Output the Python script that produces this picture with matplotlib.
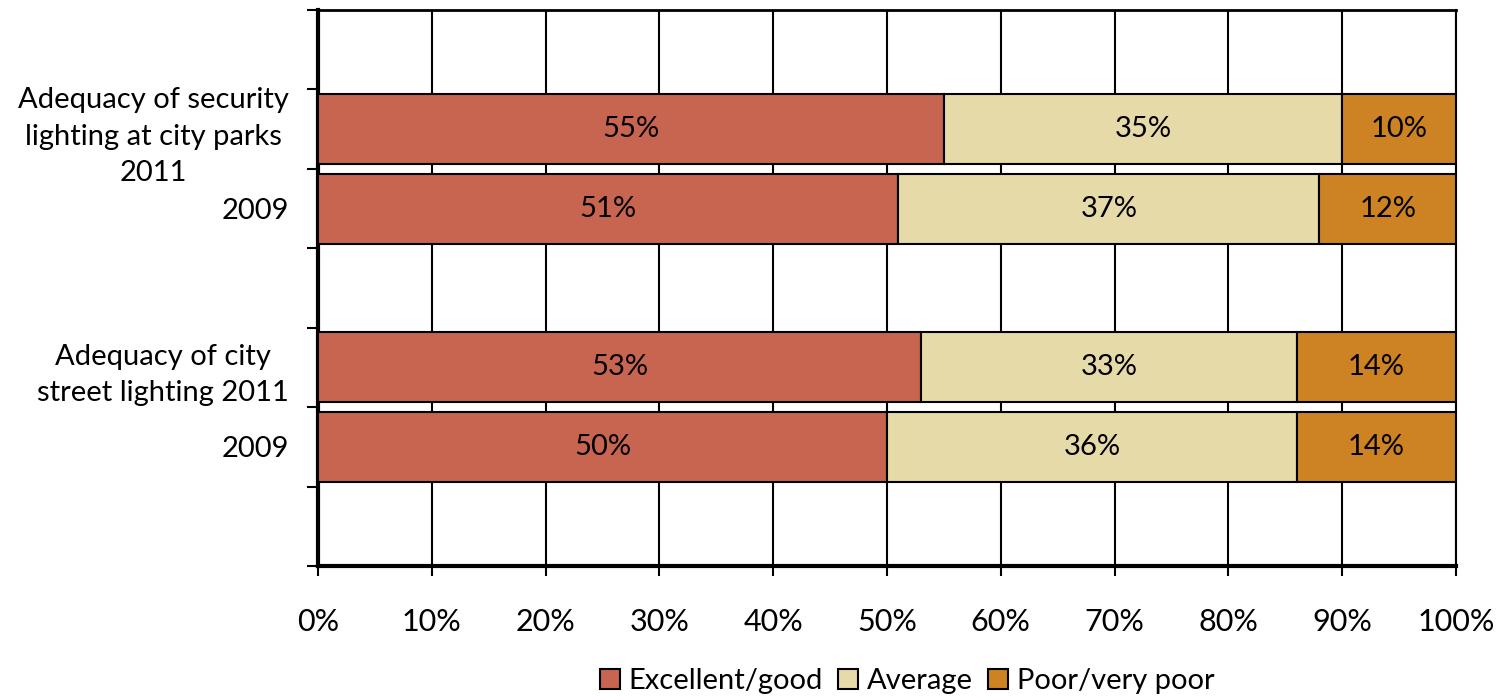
import matplotlib.pyplot as plt
from matplotlib.ticker import MultipleLocator, FixedLocator, PercentFormatter

# ----------------------------------------
# DATA
# ----------------------------------------
categories = [
    "Adequacy of security\nlighting at city parks\n2011",
    "2009",
    "Adequacy of city\nstreet lighting 2011",
    "2009",
]
excellent = [55, 51, 53, 50]
average = [35, 37, 33, 36]
poor = [10, 12, 14, 14]

series_names = ["Excellent/good", "Average", "Poor/very poor"]
colors = ["#C86550", "#E6DAA8", "#CD8223"]

# slots on the category axis (blank slots between groups)
positions = [1.5, 2.5, 4.5, 5.5]

# ----------------------------------------
# STYLE
# ----------------------------------------
plt.rcParams["font.family"] = ["Lato", "DejaVu Sans"]
FS = 21

fig = plt.figure(figsize=(15.03, 6.98), dpi=100)
ax = fig.add_axes([318 / 1503, 1 - 566 / 698, (1456 - 318) / 1503, (566 - 10) / 698])

# ----------------------------------------
# STACKED BARS
# ----------------------------------------
lefts = [0] * len(categories)
for name, vals, col in zip(series_names, [excellent, average, poor], colors):
    bars = ax.barh(positions, vals, left=lefts, height=0.88, color=col,
                   edgecolor="black", linewidth=1.5, label=name, zorder=3)
    for b, v in zip(bars, vals):
        ax.text(b.get_x() + b.get_width() / 2, b.get_y() + b.get_height() / 2,
                f"{v}%", ha="center", va="center", fontsize=FS, zorder=4)
    lefts = [l + v for l, v in zip(lefts, vals)]

# ----------------------------------------
# AXES
# ----------------------------------------
ax.set_xlim(0, 100)
ax.set_ylim(7, 0)
ax.xaxis.set_major_locator(MultipleLocator(10))
ax.xaxis.set_major_formatter(PercentFormatter(decimals=0))
ax.grid(axis="x", color="black", linewidth=1.5, zorder=0)

ax.yaxis.set_major_locator(MultipleLocator(1))
ax.yaxis.set_major_formatter(plt.NullFormatter())
ax.yaxis.set_minor_locator(FixedLocator(positions))
ax.set_yticklabels(categories, minor=True, fontsize=FS, multialignment="center",
                   linespacing=1.5)
ax.tick_params(axis="y", which="minor", length=0, pad=21)
ax.tick_params(axis="y", which="major", length=8, width=1.5, direction="out")
ax.tick_params(axis="x", which="major", length=7, width=1.5, labelsize=22, pad=23)

for side in ["left", "bottom"]:
    ax.spines[side].set_linewidth(3)
ax.spines["top"].set_linewidth(2)
ax.spines["right"].set_linewidth(1.5)

fig.legend(loc="center", bbox_to_anchor=(907 / 1503, 1 - 681 / 698), ncol=3,
           frameon=False, fontsize=FS, handlelength=0.7, handleheight=0.7,
           handletextpad=0.3, columnspacing=0.5)

fig.savefig("out.png", dpi=100)
